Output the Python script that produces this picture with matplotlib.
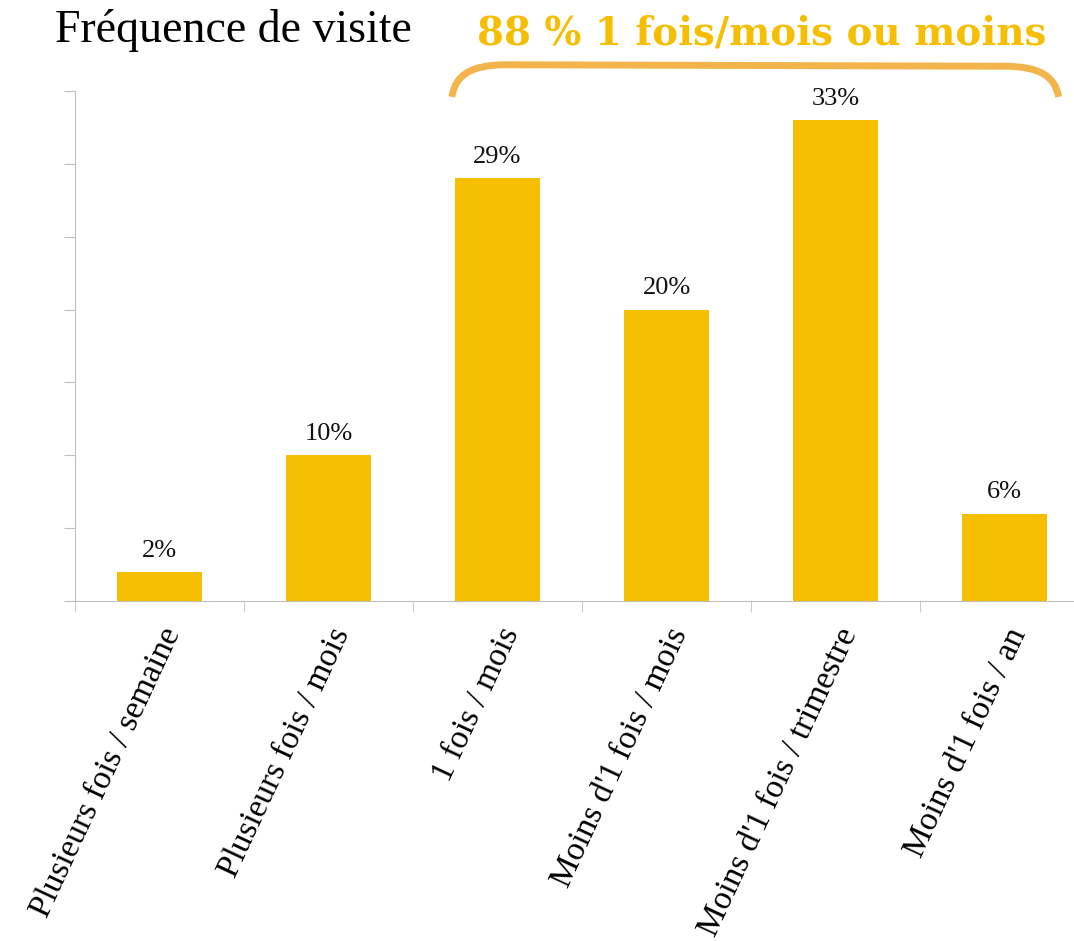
import matplotlib
matplotlib.use("Agg")
import matplotlib.pyplot as plt
from matplotlib.path import Path
from matplotlib.patches import PathPatch
import numpy as np

categories = ["Plusieurs fois / semaine", "Plusieurs fois / mois", "1 fois / mois",
              "Moins d'1 fois / mois", "Moins d'1 fois / trimestre", "Moins d'1 fois / an"]
values = [2, 10, 29, 20, 33, 6]
value_labels = ["2%", "10%", "29%", "20%", "33%", "6%"]

BAR = "#F6BE00"
GRID = "#BFBFBF"

fig = plt.figure(figsize=(10.74, 9.41), dpi=100)
ax = fig.add_axes([75 / 1074, 340 / 941, 1014 / 1074, 510 / 941])

x = np.arange(len(categories))
ax.bar(x, values, width=0.5, color=BAR, zorder=2)
for xi, v, lab in zip(x, values, value_labels):
    ax.text(xi, v + 0.7, lab, ha="center", va="bottom", fontsize=19,
            family="Liberation Serif", color="#111111")

ax.set_xlim(-0.5, len(categories) - 0.5)
ax.set_ylim(0, 35)
ax.set_yticks(np.arange(0, 36, 5))
ax.set_yticklabels([])
ax.tick_params(axis="y", length=8, color=GRID, direction="out")

ax.set_xticks(x)
ax.set_xticklabels(categories, rotation=65, ha="right", rotation_mode="anchor",
                   fontsize=24, family="Liberation Serif")
ax.tick_params(axis="x", which="major", length=0, pad=16)
ax.set_xticks(np.arange(-0.5, len(categories), 1), minor=True)
ax.tick_params(axis="x", which="minor", length=8, color=GRID)

for s in ("top", "right"):
    ax.spines[s].set_visible(False)
for s in ("left", "bottom"):
    ax.spines[s].set_color(GRID)

fig.text(55 / 1074, 1 - 31 / 941, "Fréquence de visite", fontsize=33,
         family="Liberation Serif", va="center", ha="left")
fig.text(762 / 1074, 1 - 33 / 941, "88 % 1 fois/mois ou moins", fontsize=28,
         family="DejaVu Serif", weight="bold", color=BAR, va="center", ha="center")

# accolade au-dessus des 4 dernières catégories
x0, x1 = 1.73, 5.32
yb, yt = 34.6, 36.8
verts = [(x0, yb), (x0 + 0.02, yb + 1.4), (x0 + 0.1, yt), (x0 + 0.32, yt),
         (x1 - 0.32, yt - 0.1), (x1 - 0.1, yt - 0.1), (x1 - 0.02, yb + 1.3), (x1, yb)]
codes = [Path.MOVETO, Path.CURVE4, Path.CURVE4, Path.CURVE4,
         Path.LINETO, Path.CURVE4, Path.CURVE4, Path.CURVE4]
ax.add_patch(PathPatch(Path(verts, codes), fill=False, lw=5, color="#F4B44C",
                       clip_on=False, capstyle="butt"))

fig.savefig("out.png", dpi=100)
